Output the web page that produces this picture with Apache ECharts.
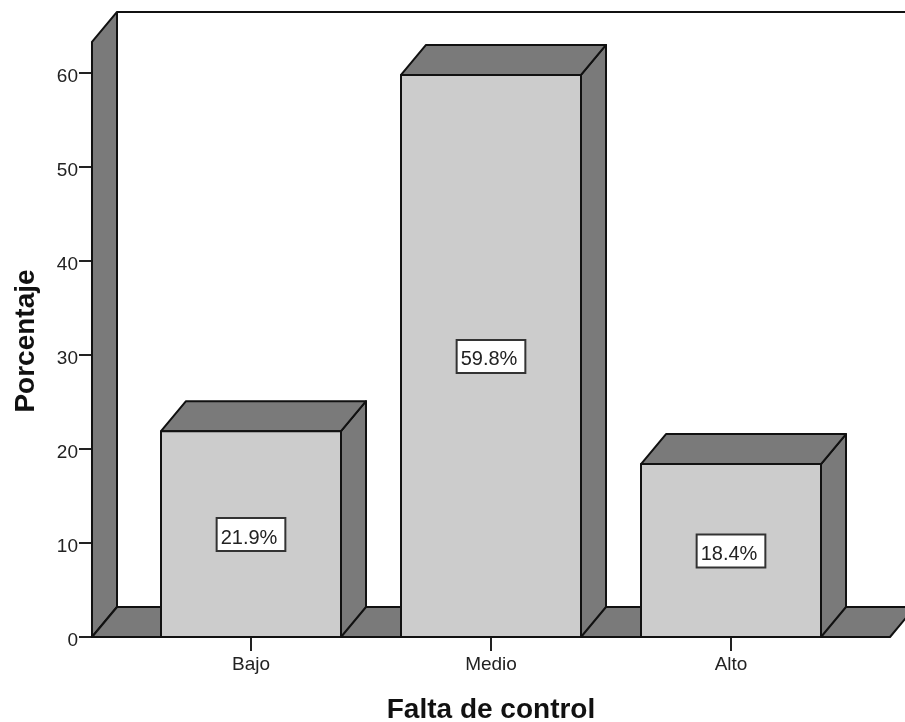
<!DOCTYPE html>
<html>
<head>
<meta charset="utf-8">
<style>html,body{margin:0;padding:0;background:#fff}#c{width:905px;height:722px}</style>
<script src="https://cdn.jsdelivr.net/npm/echarts@6/dist/echarts.min.js"></script>
</head>
<body>
<div id="c"></div>
<script>
const categories = ['Bajo', 'Medio', 'Alto'];
const values = [21.9, 59.8, 18.4];
const percentLabels = ['21.9%', '59.8%', '18.4%'];
const yTicks = [0, 60];
const wallTopValue = 63.3;

const DX = 25, DY = -30, BAND_PAD = 0.125, FLOOR_EXT = 39, LW = 2;
const SIDE = '#7a7a7a', FRONT = '#cccccc', EDGE = '#111';
const FONT = '"Liberation Sans", Arial, sans-serif';

function poly(pts, fill) {
  return { type: 'polygon', shape: { points: pts }, style: { fill: fill, stroke: EDGE, lineWidth: LW, lineJoin: 'round' } };
}

function renderRoom(params, api) {
  const a = api.coord([0, 0]), b = api.coord([categories.length - 1, 0]);
  const band = api.size([1, 0])[0];
  const y0 = a[1], yTop = api.coord([0, wallTopValue])[1];
  const xL = a[0] - band / 2 - FLOOR_EXT, xR = b[0] + band / 2 + FLOOR_EXT;
  return { type: 'group', children: [
    poly([[xL, y0], [xL + DX, y0 + DY], [xL + DX, yTop + DY], [xL, yTop]], SIDE),
    poly([[xL, y0], [xR, y0], [xR + DX, y0 + DY], [xL + DX, y0 + DY]], SIDE),
    { type: 'line', shape: { x1: xL + DX, y1: yTop + DY, x2: xR + DX, y2: yTop + DY }, style: { stroke: EDGE, lineWidth: LW } }
  ] };
}

function renderBar(params, api) {
  const i = api.value(0), v = api.value(1);
  const c = api.coord([i, v]), base = api.coord([i, 0]), mid = api.coord([i, v / 2]);
  const band = api.size([1, 0])[0];
  const half = band / 2 * (1 - 2 * BAND_PAD);
  const l = c[0] - half, r = c[0] + half, t = c[1], b = base[1];
  return { type: 'group', children: [
    poly([[r, b], [r + DX, b + DY], [r + DX, t + DY], [r, t]], SIDE),
    poly([[l, t], [r, t], [r + DX, t + DY], [l + DX, t + DY]], SIDE),
    poly([[l, b], [r, b], [r, t], [l, t]], FRONT),
    { type: 'text', x: mid[0], y: mid[1] - 15, style: {
      text: percentLabels[i], fill: '#222', font: '20px ' + FONT,
      align: 'center', verticalAlign: 'top',
      backgroundColor: '#fff', borderColor: '#333', borderWidth: 2, padding: [9, 7, 2, 3]
    } }
  ] };
}

const chart = echarts.init(document.getElementById('c'), null, { renderer: 'canvas' });
chart.setOption({
  animation: false,
  backgroundColor: '#fff',
  grid: { left: 131, width: 720, top: 73, height: 564, outerBoundsMode: 'none' },
  xAxis: {
    type: 'category', data: categories,
    name: 'Falta de control', nameLocation: 'middle', nameGap: 59,
    nameTextStyle: { fontFamily: FONT, fontWeight: 'bold', fontSize: 28, color: '#111' },
    axisLine: { show: false },
    axisTick: { show: true, alignWithLabel: true, length: 14, lineStyle: { color: '#222', width: 2 } },
    axisLabel: { color: '#222', fontFamily: FONT, fontSize: 19, margin: 18 }
  },
  yAxis: {
    type: 'value', min: yTicks[0], max: yTicks[1], interval: 10, offset: 39,
    name: 'Porcentaje', nameLocation: 'middle', nameGap: 52,
    nameTextStyle: { fontFamily: FONT, fontWeight: 'bold', fontSize: 28, color: '#111', padding: [0, 0, 0, 28] },
    axisLine: { show: false },
    axisTick: { show: true, length: 13, lineStyle: { color: '#222', width: 2 } },
    axisLabel: { color: '#222', fontFamily: FONT, fontSize: 19, margin: 14, verticalAlign: 'top', padding: [-6, 0, 0, 0] },
    splitLine: { show: false }
  },
  series: [
    { type: 'custom', clip: false, z: 1, silent: true, renderItem: renderRoom, data: [[0, 0]], encode: { x: 0, y: 1 } },
    { type: 'custom', clip: false, z: 2, silent: true, renderItem: renderBar,
      data: values.map((v, i) => [i, v]), encode: { x: 0, y: 1 } }
  ]
});
</script>
</body>
</html>
